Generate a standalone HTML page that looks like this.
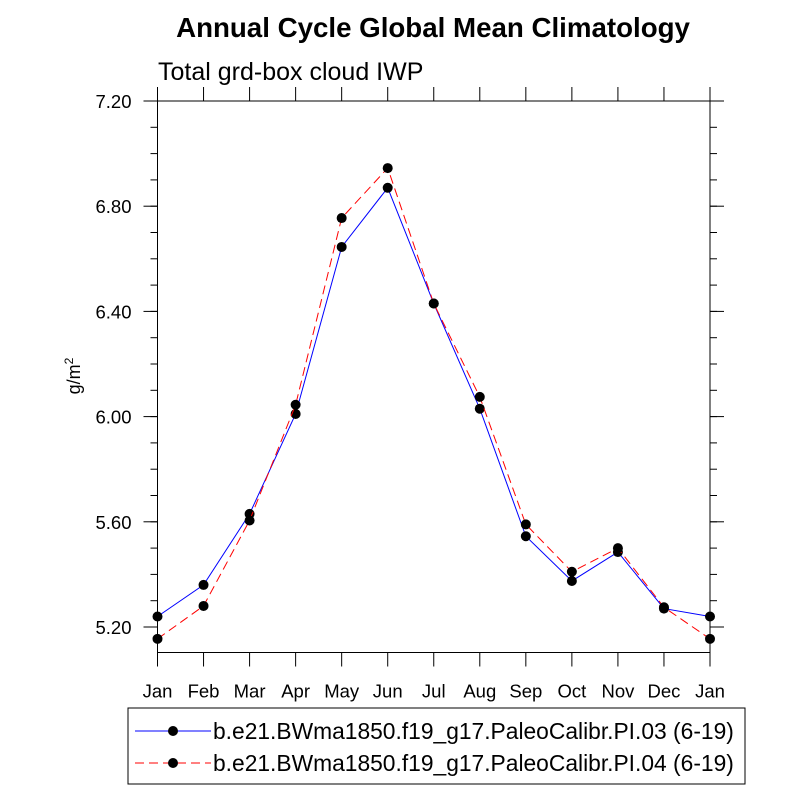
<!DOCTYPE html>
<html><head><meta charset="utf-8"><style>
body{margin:0;background:#fff;}
svg text{font-family:"Liberation Sans",sans-serif;fill:#000;}
</style></head><body>
<svg id="chart" width="800" height="800" xmlns="http://www.w3.org/2000/svg">
<rect width="800" height="800" fill="#fff"/>
<text x="433" y="37" font-size="27.7" font-weight="bold" text-anchor="middle">Annual Cycle Global Mean Climatology</text>
<text x="158" y="80" font-size="25">Total grd-box cloud IWP</text>
<text transform="translate(80,376) rotate(-90)" font-size="18" text-anchor="middle">g/m<tspan dy="-7" font-size="12">2</tspan></text>
<g id="axes"></g>
<g id="marks"></g>
<g>
<rect x="128" y="708" width="617" height="76" fill="none" stroke="#000" stroke-width="1"/>
<line x1="135" y1="731" x2="211" y2="731" stroke="#0000ff" stroke-width="1"/>
<circle cx="173" cy="731" r="5" fill="#000"/>
<text x="213" y="739" font-size="22.8">b.e21.BWma1850.f19_g17.PaleoCalibr.PI.03 (6-19)</text>
<line x1="135" y1="763" x2="211" y2="763" stroke="#ff0000" stroke-width="1" stroke-dasharray="9,5"/>
<circle cx="173" cy="763" r="5" fill="#000"/>
<text x="213" y="771" font-size="22.8">b.e21.BWma1850.f19_g17.PaleoCalibr.PI.04 (6-19)</text>
</g>
</svg>
<script>
const months = ["Jan","Feb","Mar","Apr","May","Jun","Jul","Aug","Sep","Oct","Nov","Dec","Jan"];
const seriesPI03 = [5.24,5.36,5.63,6.01,6.645,6.87,6.43,6.03,5.545,5.375,5.485,5.27,5.24];
const seriesPI04 = [5.155,5.28,5.605,6.045,6.755,6.945,6.43,6.075,5.59,5.41,5.50,5.275,5.155];
const yTicks = [5.20,5.60,6.00,6.40,6.80,7.20];
const yTickLabels = ["5.20","5.60","6.00","6.40","6.80","7.20"];

const L=157.5,R=710,T=101,B=652.5;
function xs(i){return L+(R-L)*i/(months.length-1);}
function ys(v){return 627-(v-5.20)*263;}
const NS="http://www.w3.org/2000/svg";
function mk(tag,attrs,parent){const e=document.createElementNS(NS,tag);for(const k in attrs)e.setAttribute(k,attrs[k]);parent.appendChild(e);return e;}
const axes=document.getElementById('axes'), marks=document.getElementById('marks');
const frame=mk('rect',{x:L,y:T,width:R-L,height:B-T,fill:'none',stroke:'#000','stroke-width':1},axes);


months.forEach((m,i)=>{
  const x=xs(i);
  mk('line',{x1:x,y1:B,x2:x,y2:B+14,stroke:'#000'},axes);
  mk('line',{x1:x,y1:T,x2:x,y2:T-14,stroke:'#000'},axes);
  const t=mk('text',{x:x,y:B+45,'font-size':18.5,'text-anchor':'middle'},axes);
  t.textContent=m;
  
  
});
for(let v=5.2;v<=7.2001;v+=0.1){
  const y=ys(v); if(y<T-0.5||y>B+0.5) continue;
  mk('line',{x1:L,y1:y,x2:L-7,y2:y,stroke:'#000'},axes);
  mk('line',{x1:R,y1:y,x2:R+7,y2:y,stroke:'#000'},axes);
}
for(let v=5.1;v>5.09;v-=0.1){
  const y=ys(v); if(y<=B){mk('line',{x1:L,y1:y,x2:L-7,y2:y,stroke:'#000'},axes);mk('line',{x1:R,y1:y,x2:R+7,y2:y,stroke:'#000'},axes);}
}
yTicks.forEach((v,i)=>{
  const y=ys(v);
  mk('line',{x1:L,y1:y,x2:L-14,y2:y,stroke:'#000'},axes);
  mk('line',{x1:R,y1:y,x2:R+14,y2:y,stroke:'#000'},axes);
  const t=mk('text',{x:L-26,y:y+7,'font-size':18.5,'text-anchor':'end'},axes);
  t.textContent=yTickLabels[i];
  
  
});
function drawSeries(vals,color,dash,name){
  const pts=vals.map((v,i)=>xs(i)+','+ys(v)).join(' ');
  const pl=mk('polyline',{points:pts,fill:'none',stroke:color,'stroke-width':1,'stroke-dasharray':dash},marks);
  
  
  vals.forEach((v,i)=>{
    const c=mk('circle',{cx:xs(i),cy:ys(v),r:5,fill:'#000'},marks);
    
    
  });
}
drawSeries(seriesPI03,'#0000ff','none','series-pi03');
drawSeries(seriesPI04,'#ff0000','9,5','series-pi04');
</script>
</body></html>
